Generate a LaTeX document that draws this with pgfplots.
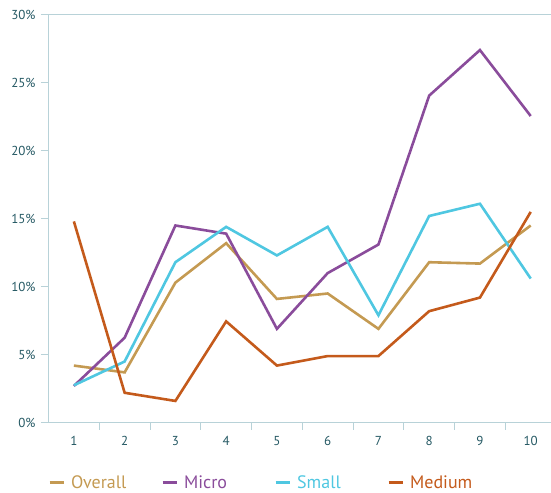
\documentclass[border=0pt]{standalone}
\usepackage{fontspec}
\setmainfont{PT Sans}
\usepackage{pgfplots}
\pgfplotsset{compat=1.18}

\definecolor{overallc}{HTML}{C49A52}
\definecolor{microc}{HTML}{8A4C9B}
\definecolor{smallc}{HTML}{4FC7E1}
\definecolor{mediumc}{HTML}{C45A1B}
\definecolor{axisc}{HTML}{B8D2D8}
\definecolor{labelc}{HTML}{245863}

\newcommand{\legtext}[2]{\makebox[92bp][l]{\hspace{4bp}\textcolor{#1}{#2}}}

\begin{document}
\begin{tikzpicture}
\path[use as bounding box] (-48bp,-70.3bp) rectangle (503bp,422.7bp);
\begin{axis}[
  scale only axis,
  width=503bp, height=408bp,
  at={(0,0)}, anchor=origin,
  xmin=0.49, xmax=10.4,
  ymin=0, ymax=30,
  axis lines=left,
  axis line style={-, draw=axisc, line width=1bp},
  xtick={1,...,10},
  minor xtick={1.5,2.5,...,9.5},
  ytick={0,5,10,15,20,25},
  yticklabels={0\%,5\%,10\%,15\%,20\%,25\%},
  extra y ticks={30},
  extra y tick labels={30\%},
  extra y tick style={grid=major, major grid style={draw=axisc, line width=1bp}},
  tick align=outside,
  major tick length=7bp,
  minor tick length=7bp,
  xtick style={draw=none},
  minor x tick style={draw=axisc, line width=1bp},
  ytick style={draw=axisc, line width=1bp},
  every tick label/.append style={font=\fontsize{13bp}{15bp}\selectfont, text=labelc},
  /pgf/number format/assume math mode=true,
  xticklabel style={yshift=-3bp},
  yticklabel style={xshift=-2bp},
  clip=false,
  legend columns=4,
  legend style={draw=none, fill=none, inner sep=0pt, at={(0,-0.147)}, anchor=west,
    font=\fontsize{18bp}{20bp}\selectfont,
    /tikz/every even column/.append style={column sep=0bp}},
  legend image code/.code={\draw[#1, line width=3bp] (0bp,0bp) -- (14bp,0bp);},
  legend cell align=left,
  every axis plot/.append style={line width=2.6bp, line join=miter},
]
\addplot[color=overallc] coordinates {
(1,4.2) (2,3.7) (3,10.3) (4,13.2) (5,9.1) (6,9.5) (7,6.9) (8,11.8) (9,11.7) (10,14.5)
};
\addlegendentry{\legtext{overallc}{Overall}}
\addplot[color=microc] coordinates {
(1,2.7) (2,6.25) (3,14.5) (4,13.9) (5,6.9) (6,11.0) (7,13.1) (8,24.05) (9,27.4) (10,22.55)
};
\addlegendentry{\legtext{microc}{Micro}}
\addplot[color=smallc] coordinates {
(1,2.75) (2,4.5) (3,11.8) (4,14.4) (5,12.3) (6,14.4) (7,7.9) (8,15.2) (9,16.1) (10,10.6)
};
\addlegendentry{\legtext{smallc}{Small}}
\addplot[color=mediumc] coordinates {
(1,14.8) (2,2.2) (3,1.6) (4,7.45) (5,4.2) (6,4.9) (7,4.9) (8,8.2) (9,9.2) (10,15.5)
};
\addlegendentry{\legtext{mediumc}{Medium}}
\end{axis}
\end{tikzpicture}
\end{document}
